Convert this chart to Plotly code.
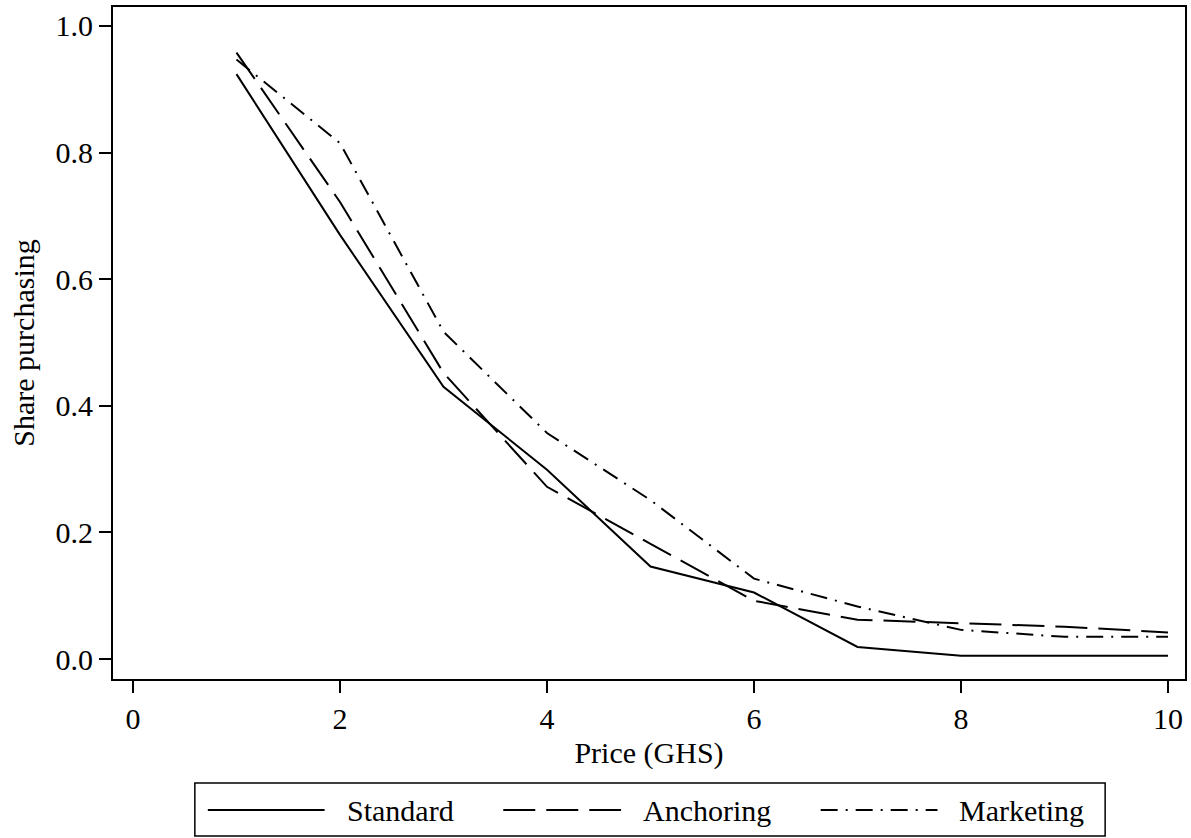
import plotly.graph_objects as go

# ---- data ----
price = [1, 2, 3, 4, 5, 6, 7, 8, 9, 10]
standard = [0.924, 0.670, 0.430, 0.299, 0.146, 0.105, 0.019, 0.005, 0.005, 0.005]
anchoring = [0.958, 0.722, 0.452, 0.272, 0.182, 0.092, 0.062, 0.056, 0.051, 0.042]
marketing = [0.947, 0.815, 0.517, 0.357, 0.251, 0.127, 0.083, 0.046, 0.035, 0.035]
series_names = ["Standard", "Anchoring", "Marketing"]
x_ticks = [0, 2, 4, 6, 8, 10]
y_ticks = [0.0, 0.2, 0.4, 0.6, 0.8, 1.0]
y_tick_text = ["0.0", "0.2", "0.4", "0.6", "0.8", "1.0"]

FONT = "Liberation Serif"
W, H = 1191, 838
ML, MR, MT, MB = 113, 4, 7, 159
PW, PH = W - ML - MR, H - MT - MB

dashes = ["solid", "32px,11px", "17px,8px,2px,8px"]

fig = go.Figure()
for name, vals, dash in zip(series_names, [standard, anchoring, marketing], dashes):
    fig.add_trace(go.Scatter(x=price, y=vals, mode="lines", name=name,
                             line=dict(color="black", width=2, dash=dash),
                             showlegend=False))

axis_common = dict(showline=True, linewidth=2, linecolor="black", mirror=True,
                   ticks="outside", ticklen=12, tickwidth=1.5, tickcolor="black",
                   showgrid=False, zeroline=False,
                   tickfont=dict(family=FONT, size=30, color="black"))

fig.update_layout(
    width=W, height=H,
    margin=dict(l=ML, r=MR, t=MT, b=MB, pad=0),
    paper_bgcolor="white", plot_bgcolor="white",
    font=dict(family=FONT, size=30, color="black"),
    xaxis=dict(range=[-0.193, 10.164], tickvals=x_ticks,
               title=dict(text="Price (GHS)", font=dict(family=FONT, size=30), standoff=8),
               **axis_common),
    yaxis=dict(range=[-0.0316, 1.030], tickvals=y_ticks, ticktext=y_tick_text,
               title=dict(text="Share purchasing", font=dict(family=FONT, size=30), standoff=12),
               **axis_common),
    showlegend=False,
)

# ---- custom legend (pixel layout converted to paper coords) ----
def px(x):
    return (x - ML) / PW

def py(y):
    return (H - MB - y) / PH

fig.add_shape(type="rect", xref="paper", yref="paper",
              x0=px(195), x1=px(1107), y0=py(783), y1=py(836),
              line=dict(color="black", width=1.5), fillcolor="white", layer="above")

legend_items = [(208, 325, 345), (504, 622, 642), (822, 939, 959)]
for (x0, x1, tx), name, dash in zip(legend_items, series_names, dashes):
    fig.add_shape(type="line", xref="paper", yref="paper",
                  x0=px(x0), x1=px(x1), y0=py(810), y1=py(810),
                  line=dict(color="black", width=2, dash=dash))
    fig.add_annotation(xref="paper", yref="paper", x=px(tx), y=py(810),
                       text=name, showarrow=False, xanchor="left", yanchor="middle",
                       font=dict(family=FONT, size=30, color="black"))

fig.write_html("out.html", config={"displayModeBar": False},
               post_script="document.body.style.margin='0';document.body.style.overflow='hidden';")
